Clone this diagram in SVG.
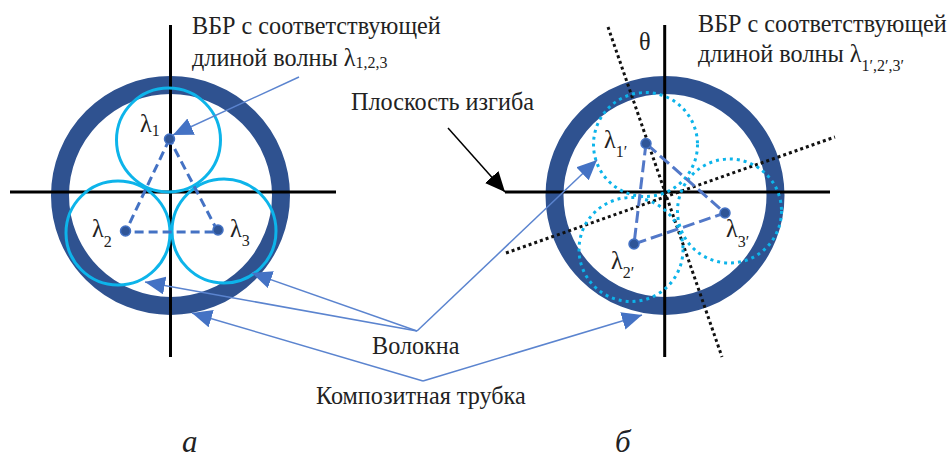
<svg xmlns="http://www.w3.org/2000/svg" width="951" height="459" viewBox="0 0 951 459">
<style>
text{font-family:"Liberation Serif","DejaVu Serif",serif;fill:#222;font-size:24.2px}
.sub{font-size:16px}
.ital{font-style:italic;font-size:31px}
.tube{fill:none;stroke:#2f5290;stroke-width:18}
.axis{stroke:#000;stroke-width:3;fill:none}
.dotax{stroke:#111;stroke-width:3;stroke-dasharray:3 3;fill:none}
.fib{fill:none;stroke:#0db4ea;stroke-width:3}
.fibd{fill:none;stroke:#0db4ea;stroke-width:3;stroke-dasharray:3 4}
.tri{stroke:#4472c4;stroke-width:3;stroke-dasharray:9 5;fill:none}
.trib{stroke:#5278c8;stroke-width:3;stroke-dasharray:12 5;fill:none}
.dot{fill:#2f5597;stroke:#4472c4;stroke-width:1.5}
.lead{stroke:#5b84cf;stroke-width:1.5;fill:none}
</style>
<defs>
<marker id="ah" markerUnits="userSpaceOnUse" markerWidth="22" markerHeight="20" refX="20" refY="9" orient="auto"><path d="M0 0L20 9L0 18Z" fill="#4472c4"/></marker>
<marker id="ahk" markerUnits="userSpaceOnUse" markerWidth="22" markerHeight="20" refX="20" refY="9" orient="auto"><path d="M0 0L20 9L0 18Z" fill="#000"/></marker>
</defs>

<g id="cross-a"><circle class="tube" cx="170.500" cy="195.500" r="110.500"/><path class="axis" d="M170.500 25V357M10 192H336"/></g>
<g id="fiber-a1"><circle class="fib" cx="168.500" cy="140" r="52"/></g>
<g id="fiber-a2"><circle class="fib" cx="118" cy="233" r="52"/></g>
<g id="fiber-a3"><circle class="fib" cx="224" cy="231" r="52"/></g>

<g id="cross-b"><circle class="tube" cx="665" cy="195.500" r="110.500"/><path class="axis" d="M664.700 25V357M505 192H830"/><path class="dotax" d="M608 27L722 357M506 253L835 137"/></g>
<g id="fiber-b1"><circle class="fibd" cx="645.500" cy="144.500" r="52"/></g>
<g id="fiber-b2"><circle class="fibd" cx="631" cy="249.500" r="52"/></g>
<g id="fiber-b3"><circle class="fibd" cx="729.500" cy="211" r="52"/></g>

<g id="connectors">
<path class="tri" d="M169.500 139L125.500 232H218L169.500 139"/>
<path class="trib" d="M646 143.500L634 244L725 213L646 143.500"/>
<path class="lead" marker-end="url(#ah)" d="M299 77L173 135"/>
<path class="lead" marker-end="url(#ah)" d="M417 331L145 282"/>
<path class="lead" marker-end="url(#ah)" d="M417 331L252 273"/>
<path class="lead" marker-end="url(#ah)" d="M417 331L597 160"/>
<path class="lead" marker-end="url(#ah)" d="M423 381L192 313"/>
<path class="lead" marker-end="url(#ah)" d="M423 381L642 315"/>
<path stroke="#000" stroke-width="1.5" fill="none" marker-end="url(#ahk)" d="M448 128L505 192"/>
</g>

<g id="dots-a"><circle class="dot" cx="169.500" cy="139" r="5"/><circle class="dot" cx="125.500" cy="231" r="5"/><circle class="dot" cx="218" cy="230" r="5"/></g>
<g id="dots-b"><circle class="dot" cx="646" cy="143.500" r="5"/><circle class="dot" cx="634" cy="244" r="5"/><circle class="dot" cx="725" cy="213" r="5"/></g>

<g id="labels">
<text x="192" y="34">ВБР с соответствующей</text>
<text x="192" y="66">длиной волны <tspan>λ</tspan><tspan class="sub" dy="2">1,2,3</tspan></text>
<text x="351" y="110">Плоскость изгиба</text>
<text x="698" y="32">ВБР с соответствующей</text>
<text x="698" y="62">длиной волны <tspan>λ</tspan><tspan class="sub" dy="9">1′,2′,3′</tspan></text>
<text x="639" y="50">θ</text>
<text x="372" y="354">Волокна</text>
<text x="316" y="404">Композитная трубка</text>
<text class="ital" x="182" y="452">а</text>
<text class="ital" x="615" y="452">б</text>
<text x="140" y="132">λ<tspan class="sub" dy="4">1</tspan></text>
<text x="92" y="237">λ<tspan class="sub" dy="10">2</tspan></text>
<text x="230" y="237">λ<tspan class="sub" dy="9">3</tspan></text>
<text x="604" y="148">λ<tspan class="sub" dy="9">1′</tspan></text>
<text x="611" y="269">λ<tspan class="sub" dy="9">2′</tspan></text>
<text x="726" y="237">λ<tspan class="sub" dy="10">3′</tspan></text>
</g>
</svg>
